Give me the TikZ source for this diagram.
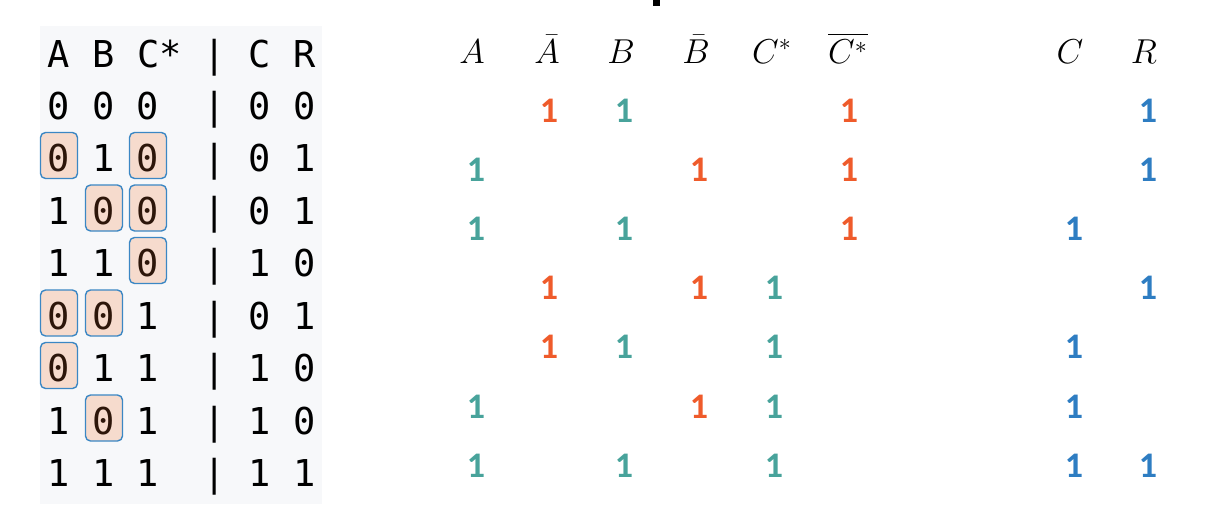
\documentclass[tikz,border=0pt]{standalone}
\usepackage{amsmath}
\usepackage{fontspec}
\newfontfamily\monofont{DejaVu Sans Mono}
\newfontfamily\numfont{Carlito}
\definecolor{orange}{RGB}{239,91,43}
\definecolor{teal}{RGB}{72,163,155}
\definecolor{blue}{RGB}{46,125,194}
\definecolor{tablebg}{RGB}{247,248,250}
\definecolor{boxfill}{RGB}{246,219,205}
\definecolor{boxline}{RGB}{59,135,196}
\definecolor{boxtext}{RGB}{45,22,10}
\tikzset{
    cell/.style = {font=\monofont\fontsize{18.5}{22}\selectfont, inner sep=0pt, anchor=base},
    hit/.style = {draw=boxline, fill=boxfill, line width=0.7pt, rounded corners=2.5pt},
    head/.style = {font=\fontsize{17}{20}\selectfont, inner sep=0pt, anchor=base},
    one/.style = {font=\numfont\bfseries\fontsize{18}{22}\selectfont, inner sep=0pt, anchor=base}
}

\begin{document}
\begin{tikzpicture}[x=0.5pt,y=-0.5pt,line cap=round,line join=round]
\useasboundingbox (0,0) rectangle (1220,504);
\fill[tablebg] (40,26) rectangle (322,504);
\fill[black] (653,0) rectangle (660,6);

% truth table header
\node[cell] (hA) at (59,67) {A};
\node[cell] (hB) at (104,67) {B};
\node[cell, anchor=base west] (hC) at (136.8,67) {C*};
\node[cell] (hbar) at (215,67) {|};
\node[cell] (hCo) at (260,67) {C};
\node[cell] (hR) at (305,67) {R};

% right header
\node[head] (mA) at (472,63) {$A$};
\node[head] (mAn) at (547,63) {$\bar{A}$};
\node[head] (mB) at (621,63) {$B$};
\node[head] (mBn) at (696,63) {$\bar{B}$};
\node[head] (mC) at (772,63) {$C^*$};
\node[head] (mCn) at (848,63) {$\overline{C^*}$};
\node[head] (mCo) at (1070,63) {$C$};
\node[head] (mR) at (1144,63) {$R$};

\foreach \pa/\pb/\pc/\cout/\rout [count=\i from 0] in
    {0/0/0/0/0, 0/1/0/0/1, 1/0/0/0/1, 1/1/0/1/0,
     0/0/1/0/1, 0/1/1/1/0, 1/0/1/1/0, 1/1/1/1/1}{
  \pgfmathsetmacro\yl{119+52.5*\i}
  \foreach \v/\x/\n in {\pa/59/a,\pb/104/b,\pc/148/c}{
    \pgfmathtruncatemacro\hl{and(\v==0,\i>0)}
    \ifnum\hl=1
      \draw[hit] (\x-18.5,\yl-39) rectangle (\x+18.5,\yl+7);
      \node[cell, text=boxtext] (t\i\n) at (\x,\yl) {\v};
    \else
      \node[cell] (t\i\n) at (\x,\yl) {\v};
    \fi
  }
  \node[cell] (t\i bar) at (215,\yl) {|};
  \node[cell] (t\i C) at (260,\yl) {\cout};
  \node[cell] (t\i R) at (305,\yl) {\rout};
  % right side
  \ifnum\i>0
    \pgfmathsetmacro\yr{122+59.2*(\i-1)}
    \foreach \v/\xo/\xz/\n in {\pa/476/549/a,\pb/624/699/b,\pc/774/849/c}{
      \ifnum\v=1
        \node[one, teal] (o\i\n) at (\xo,\yr) {1};
      \else
        \node[one, orange] (o\i\n) at (\xz,\yr) {1};
      \fi
    }
    \ifnum\cout=1 \node[one, blue] (o\i C) at (1074,\yr) {1}; \fi
    \ifnum\rout=1 \node[one, blue] (o\i R) at (1148,\yr) {1}; \fi
  \fi
}
\end{tikzpicture}
\end{document}
